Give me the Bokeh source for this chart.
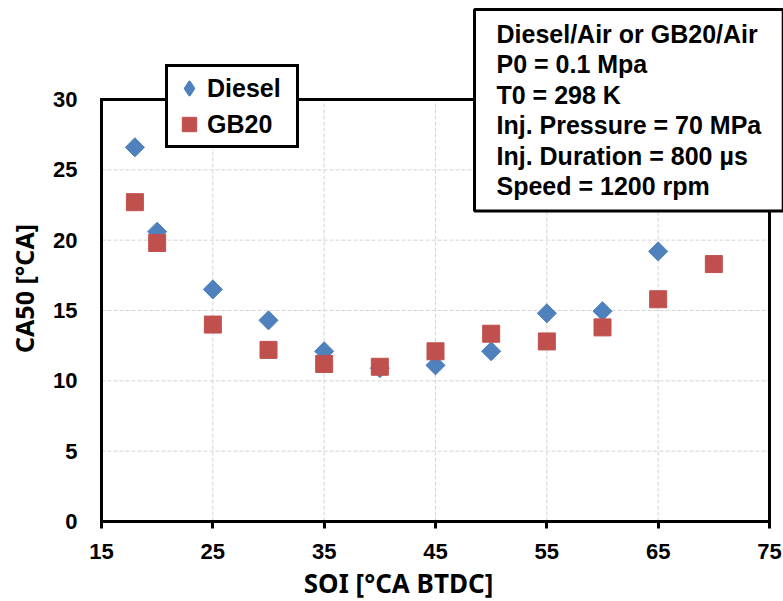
import numpy as np
from bokeh.plotting import figure
from bokeh.models import Range1d, FixedTicker, Label, Legend, LegendItem
from bokeh.embed import file_html
from bokeh.resources import INLINE

# CA50 versus start of injection, for the two fuels
soi_diesel = [18, 20, 25, 30, 35, 40, 45, 50, 55, 60, 65]
ca50_diesel = [26.6, 20.6, 16.5, 14.3, 12.1, 10.9, 11.1, 12.1, 14.8, 14.95, 19.2]
soi_gb20 = [18, 20, 25, 30, 35, 40, 45, 50, 55, 60, 65, 70]
ca50_gb20 = [22.7, 19.8, 14.0, 12.2, 11.2, 11.0, 12.1, 13.35, 12.8, 13.8, 15.8, 18.3]

x_ticks = [15, 25, 35, 45, 55, 65, 75]
y_ticks = [0, 5, 10, 15, 20, 25, 30]

conditions = [
    "Diesel/Air or GB20/Air",
    "P0 = 0.1 Mpa",
    "T0 = 298 K",
    "Inj. Pressure = 70 MPa",
    "Inj. Duration = 800 µs",
    "Speed = 1200 rpm",
]

BLUE = "#4F81BD"
RED = "#C0504D"

# canvas size and the pixel box of the plotting area
W, H = 783, 601
FL, FR, FT, FB = 101, 769, 99, 521
X0, X1, Y0, Y1 = 15, 75, 0, 30


def dx(px):
    return X0 + (px - FL) * (X1 - X0) / (FR - FL)


def dy(py):
    return Y0 + (FB - py) * (Y1 - Y0) / (FB - FT)


# the frame spans the whole canvas so that the legend, the condition box and
# the titles can sit across the edges of the plotting area
p = figure(width=W, height=H,
           x_range=Range1d(dx(0), dx(W)), y_range=Range1d(dy(H), dy(0)),
           output_backend="svg", toolbar_location=None, min_border=0)
p.background_fill_color = "white"
p.border_fill_color = "white"
p.outline_line_color = None
p.xgrid.visible = False
p.ygrid.visible = False

# axes pinned to the edges of the plotting area
p.xaxis.fixed_location = Y0
p.yaxis.fixed_location = X0
p.xaxis.bounds = (X0, X1)
p.yaxis.bounds = (Y0, Y1)
p.xaxis.ticker = FixedTicker(ticks=x_ticks)
p.yaxis.ticker = FixedTicker(ticks=y_ticks)
for ax in (p.xaxis, p.yaxis):
    ax.axis_line_width = 3
    ax.axis_line_color = "black"
    ax.major_tick_line_width = 3
    ax.major_tick_line_color = "black"
    ax.minor_tick_line_color = None
    ax.major_tick_in = 0
    ax.major_label_text_font = "Liberation Sans"
    ax.major_label_text_font_style = "bold"
    ax.major_label_text_font_size = "22px"
    ax.major_label_text_color = "black"
p.xaxis.major_tick_out = 7
p.xaxis.major_label_standoff = 15
p.yaxis.major_tick_out = 0
p.yaxis.major_label_standoff = 24

# dashed grid inside the plotting area
p.segment(x0=x_ticks[1:-1], y0=Y0, x1=x_ticks[1:-1], y1=Y1,
          line_color="#d4d4d4", line_dash="4 2", line_width=1)
p.segment(x0=X0, y0=y_ticks[1:-1], x1=X1, y1=y_ticks[1:-1],
          line_color="#d4d4d4", line_dash="4 2", line_width=1)

# border of the plotting area
p.quad(left=[X0], right=[X1], bottom=[Y0], top=[Y1], fill_color=None,
       line_color="black", line_width=3, line_join="miter")

# data points
r_diesel = p.scatter(soi_diesel, ca50_diesel, marker="square", angle=np.pi / 4,
                     size=13.5, fill_color=BLUE, line_color=BLUE)
r_gb20 = p.scatter(soi_gb20, ca50_gb20, marker="square", size=17,
                   fill_color=RED, line_color=RED)
# diamond key for the legend (a single point that is never on screen)
r_diesel_key = p.scatter(x=[float("nan")], y=[float("nan")], marker="diamond",
                         size=13.5, fill_color=BLUE, line_color=BLUE,
                         line_width=2)

legend = Legend(items=[LegendItem(label="Diesel", renderers=[r_diesel_key]),
                       LegendItem(label="GB20", renderers=[r_gb20])],
                location=(165, H - 148))
legend.border_line_color = "black"
legend.border_line_alpha = 1
legend.border_line_width = 3
legend.background_fill_color = "white"
legend.background_fill_alpha = 1
legend.padding = 3
legend.spacing = 0
legend.margin = 0
legend.glyph_width = 36
legend.glyph_height = 36
legend.label_standoff = 0
legend.label_width = 86
legend.label_text_font = "Liberation Sans"
legend.label_text_font_style = "bold"
legend.label_text_font_size = "25px"
legend.label_text_color = "black"
legend.label_text_baseline = "middle"
p.add_layout(legend, "center")

# axis titles
p.add_layout(Label(x=dx(398), y=dy(582), text="SOI [°CA BTDC]",
                   text_font="Noto Sans", text_font_style="bold",
                   text_font_size="26px", text_align="center",
                   text_baseline="middle", text_color="black"))
p.add_layout(Label(x=dx(23), y=dy(288), text="CA50 [°CA]", angle=np.pi / 2,
                   text_font="Noto Sans", text_font_style="bold",
                   text_font_size="25px", text_align="center",
                   text_baseline="middle", text_color="black"))

# operating conditions box
p.add_layout(Label(x=dx(474), y=dy(9), text="\n".join(conditions),
                   text_font="Liberation Sans", text_font_style="bold",
                   text_font_size="25px", text_align="left",
                   text_baseline="top", text_line_height=1.09,
                   text_color="black",
                   padding=dict(left=22, right=22, top=10, bottom=11),
                   background_fill_color="white", border_line_color="black",
                   border_line_width=3))

open("out.html", "w").write(file_html(p, INLINE))
